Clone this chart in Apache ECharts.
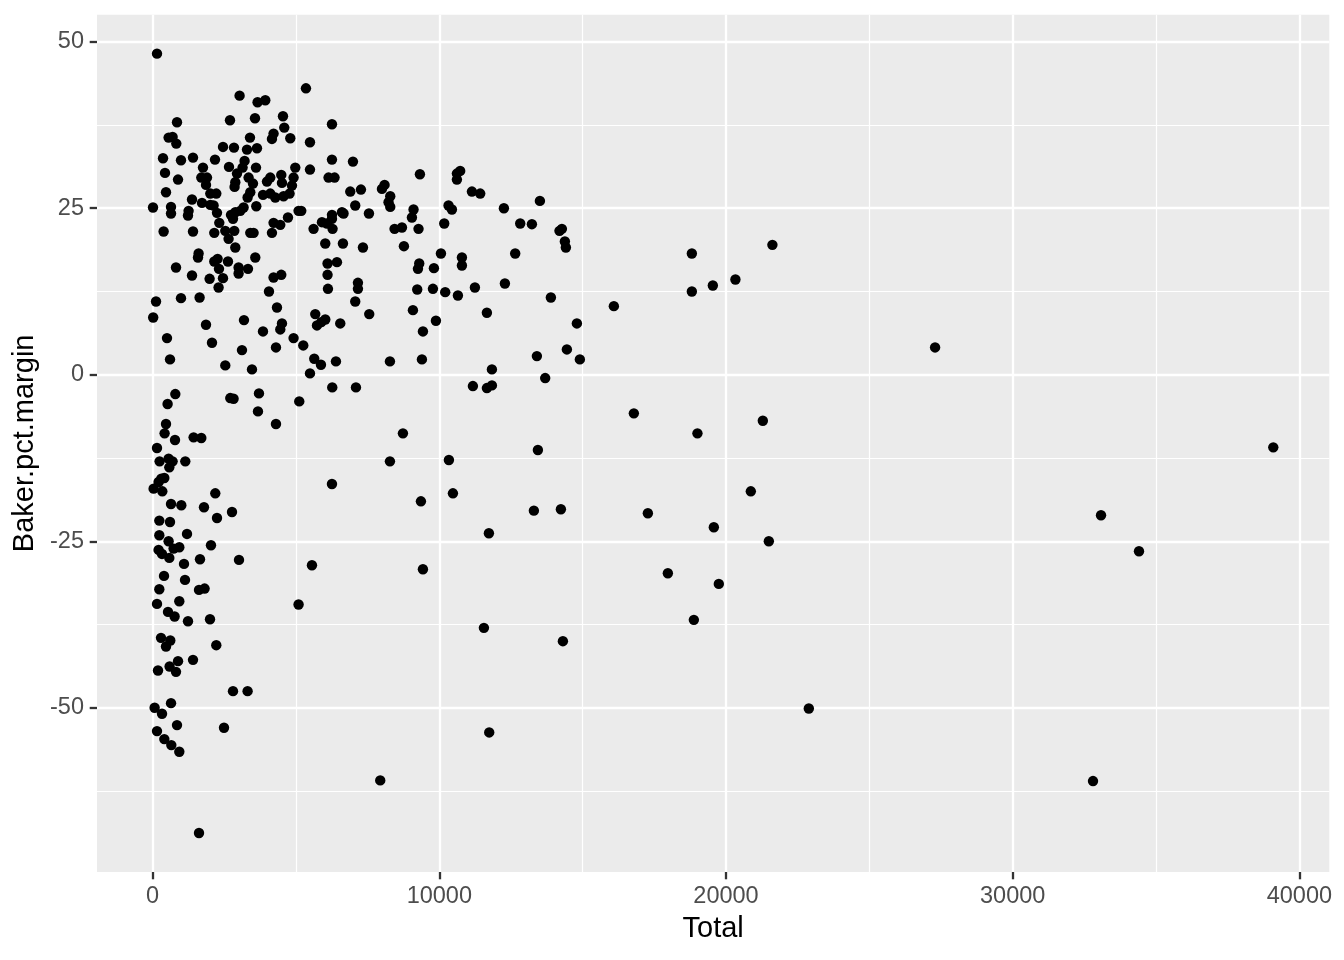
<!DOCTYPE html>
<html>
<head>
<meta charset="utf-8">
<script src="https://cdn.jsdelivr.net/npm/echarts@6/dist/echarts.min.js"></script>
<style>
html,body{margin:0;padding:0;background:#fff;}
#chart{width:1344px;height:960px;}
</style>
</head>
<body>
<div id="chart"></div>
<script>
// ---- data (Total, Baker.pct.margin) ----
const total = [
153,3034,3661,3930,851,2699,3571,4547,4592,4802,558,697,826,2455,2838,3396,3292,3640,4219,4163,
363,990,1409,2176,1757,2664,3208,3138,3606,432,886,1698,1897,1862,2943,2884,2859,3348,3501,3407,
3313,4104,3989,4488,4512,4976,4917,4861,467,2012,2221,1374,3850,4104,4279,4568,4777,14,642,642,
1255,1234,1723,2012,2127,2246,2734,2884,3058,3173,3616,2804,2326,4721,5091,4219,4453,384,1409,2151,
2535,2849,2650,3407,3522,4163,2884,1604,1583,2267,2151,2629,3581,816,1374,2315,2999,2999,3327,2455,
1988,2301,4219,4488,4059,119,990,1639,4338,20,1862,3187,4512,4453,3850,4917,502,2071,3117,4303,
607,2535,3466,792,523,2709,2824,3710,3675,5115,467,4303,418,781,1430,1698,153,244,558,697,
582,1140,303,408,209,35,338,2186,642,1001,1792,2769,2246,234,607,234,1200,558,2036,209,
328,582,732,931,1095,1653,3013,398,1130,1618,1813,234,153,931,5091,537,767,1234,2002,293,
617,467,2221,886,1409,188,593,816,2804,3313,642,70,328,851,2490,153,408,652,931,1618,
5349,6256,5489,6256,6988,5489,6137,6346,9324,10614,10729,10614,6894,7267,7999,8090,8289,8229,8289,5185,
7068,6256,6604,6660,6256,5907,6081,7546,9101,9045,10322,10440,10172,5614,6277,8439,8697,9275,6022,6639,
7337,8766,10057,10789,10789,6102,6430,6102,9300,9255,9812,7162,7162,6116,9230,9778,10206,10649,7068,5673,
7556,9080,6022,5883,5733,6545,9882,9429,5255,5638,5872,6395,8278,9394,5489,6266,7093,11138,11427,13509,
12253,12822,13230,14192,14276,14380,14415,12647,11242,12288,13892,16089,11660,14799,13404,14450,14903,11835,13694,11172,
11660,11835,8731,8278,10335,6256,9359,10475,5558,9429,7940,16786,13439,13299,14241,11730,11556,14311,11741,18809,
21619,20329,19541,18809,19004,21285,20866,17275,19576,21494,17972,19750,18879,22889,27293,39090,33081,34406,32802
];
const bakerMargin = [
48.2,41.9,40.9,41.2,37.9,38.2,38.5,38.8,37.1,35.5,35.6,35.7,34.7,34.2,34.1,35.6,33.8,34.0,36.2,35.4,
32.5,32.2,32.6,32.3,31.1,31.2,32.1,31.1,31.1,30.3,29.3,29.6,29.6,28.5,30.2,28.9,28.2,29.6,28.7,27.4,
26.6,29.6,29.0,30.0,28.8,31.1,29.6,28.4,27.4,27.2,27.2,26.3,27.0,27.2,26.6,26.8,27.2,25.1,25.2,24.2,
24.6,23.9,25.8,25.5,25.4,24.3,24.0,24.4,24.6,25.1,25.3,23.4,22.8,23.6,24.6,22.8,22.5,21.5,21.5,21.3,
21.6,21.6,20.4,21.3,21.3,21.3,19.1,18.2,17.6,17.4,17.0,17.0,17.6,16.1,14.9,15.9,16.1,15.2,15.9,14.5,
14.4,13.1,14.6,15.0,12.5,11.0,11.5,11.6,10.1,8.6,7.5,8.2,7.7,6.8,6.5,5.5,5.5,4.8,3.7,4.1,
2.3,1.4,0.8,-2.9,-4.4,-3.5,-3.6,-2.8,-5.5,-4.0,-7.4,-7.4,-8.8,-9.8,-9.4,-9.5,-11.0,-13.0,-12.6,-13.0,
-13.9,-13.0,-15.6,-15.5,-16.1,-17.1,-17.5,-17.8,-19.4,-19.6,-19.9,-20.6,-21.5,-21.9,-22.1,-24.1,-23.9,-25.0,-25.6,-26.3,
-26.9,-27.5,-26.1,-25.9,-28.4,-27.7,-27.8,-30.2,-30.8,-32.3,-32.1,-32.2,-34.4,-34.0,-34.5,-35.6,-36.3,-37.0,-36.7,-39.5,
-39.9,-40.8,-40.6,-43.0,-42.8,-44.4,-43.8,-44.6,-47.5,-47.5,-49.3,-50.0,-50.9,-52.6,-53.0,-53.5,-54.7,-55.6,-56.6,-68.8,
43.0,37.6,34.9,32.3,32.0,30.8,29.6,29.6,30.1,30.2,30.6,29.3,27.5,27.8,27.9,28.5,26.8,25.9,25.2,24.6,
25.4,24.0,24.4,24.2,23.4,22.9,22.7,24.2,24.8,23.6,25.4,24.8,22.7,21.9,21.9,21.9,22.1,21.9,19.7,19.7,
19.1,19.3,18.2,17.6,16.4,16.7,16.9,15.0,16.7,15.9,16.0,13.8,12.9,12.9,12.8,12.9,12.4,11.9,11.0,9.1,
9.1,9.7,8.3,7.9,7.4,7.7,8.1,6.5,4.4,2.4,1.5,2.0,2.0,2.3,0.2,-1.9,-1.9,27.5,27.2,26.1,
25.0,22.7,22.6,21.6,21.9,20.0,19.1,18.2,13.1,13.7,11.6,10.3,9.3,7.7,2.8,3.8,2.3,0.8,-0.5,-1.7,
-2.0,-1.6,-8.8,-13.0,-12.8,-16.4,-19.0,-17.8,-28.6,-29.2,-60.9,-5.8,-11.3,-20.4,-20.2,-23.8,-38.0,-40.0,-53.7,18.2,
19.5,14.3,13.4,12.5,-8.8,-6.9,-17.5,-20.8,-22.9,-25.0,-29.8,-31.4,-36.8,-50.1,4.1,-10.9,-21.1,-26.5,-61.0
];
const xTicks = [0, 10000, 20000, 30000, 40000];
const xMinor = [5000, 15000, 25000, 35000];
const yTicks = [-50, -25, 0, 25, 50];
const yMinor = [-62.5, -37.5, -12.5, 12.5, 37.5];

// ggplot-style 5% expansion of data range
function expand(arr) {
  const mn = Math.min(...arr), mx = Math.max(...arr), r = mx - mn;
  return [mn - 0.05 * r, mx + 0.05 * r];
}
const xLim = expand(total);
const yLim = expand(bakerMargin);

const points = total.map((t, i) => [t, bakerMargin[i]]);

const FONT = "'Liberation Sans', Arial, sans-serif";
const gridLines = [];
xMinor.forEach(v => gridLines.push({ xAxis: v, lineStyle: { width: 1.2 } }));
yMinor.forEach(v => gridLines.push({ yAxis: v, lineStyle: { width: 1.2 } }));
xTicks.forEach(v => gridLines.push({ xAxis: v, lineStyle: { width: 2.3 } }));
yTicks.forEach(v => gridLines.push({ yAxis: v, lineStyle: { width: 2.3 } }));

const plain = v => String(v);

const chart = echarts.init(document.getElementById('chart'), null, { renderer: 'canvas' });
chart.setOption({
  animation: false,
  backgroundColor: '#ffffff',
  grid: {
    left: 97, right: 14.7, top: 14.7, bottom: 88,
    show: true, backgroundColor: '#EBEBEB', borderWidth: 0,
    containLabel: false, outerBoundsMode: 'none'
  },
  xAxis: {
    type: 'value', min: xLim[0], max: xLim[1], position: 'bottom',
    name: 'Total', nameLocation: 'middle', nameGap: 42,
    nameTextStyle: { color: '#000', fontSize: 29, fontFamily: FONT },
    axisLine: { show: false, onZero: false },
    splitLine: { show: false },
    axisTick: { show: true, inside: false, customValues: xTicks, length: 7.3, lineStyle: { color: '#333333', width: 2.3 } },
    axisLabel: { customValues: xTicks, formatter: plain, margin: 13, color: '#4D4D4D', fontSize: 23.5, fontFamily: FONT }
  },
  yAxis: {
    type: 'value', min: yLim[0], max: yLim[1], position: 'left',
    name: 'Baker.pct.margin', nameLocation: 'middle', nameGap: 54, nameRotate: 90,
    nameTextStyle: { color: '#000', fontSize: 29, fontFamily: FONT },
    axisLine: { show: false, onZero: false },
    splitLine: { show: false },
    axisTick: { show: true, inside: false, customValues: yTicks, length: 7.3, lineStyle: { color: '#333333', width: 2.3 } },
    axisLabel: { customValues: yTicks, formatter: plain, margin: 13, color: '#4D4D4D', fontSize: 23.5, fontFamily: FONT }
  },
  series: [{
    type: 'scatter',
    data: points,
    symbol: 'circle',
    symbolSize: 10.4,
    itemStyle: { color: '#000000', opacity: 1 },
    z: 3,
    markLine: {
      silent: true, z: 1, symbol: ['none', 'none'],
      label: { show: false },
      lineStyle: { color: '#ffffff', type: 'solid' },
      emphasis: { disabled: true },
      data: gridLines
    }
  }]
});
</script>
</body>
</html>
